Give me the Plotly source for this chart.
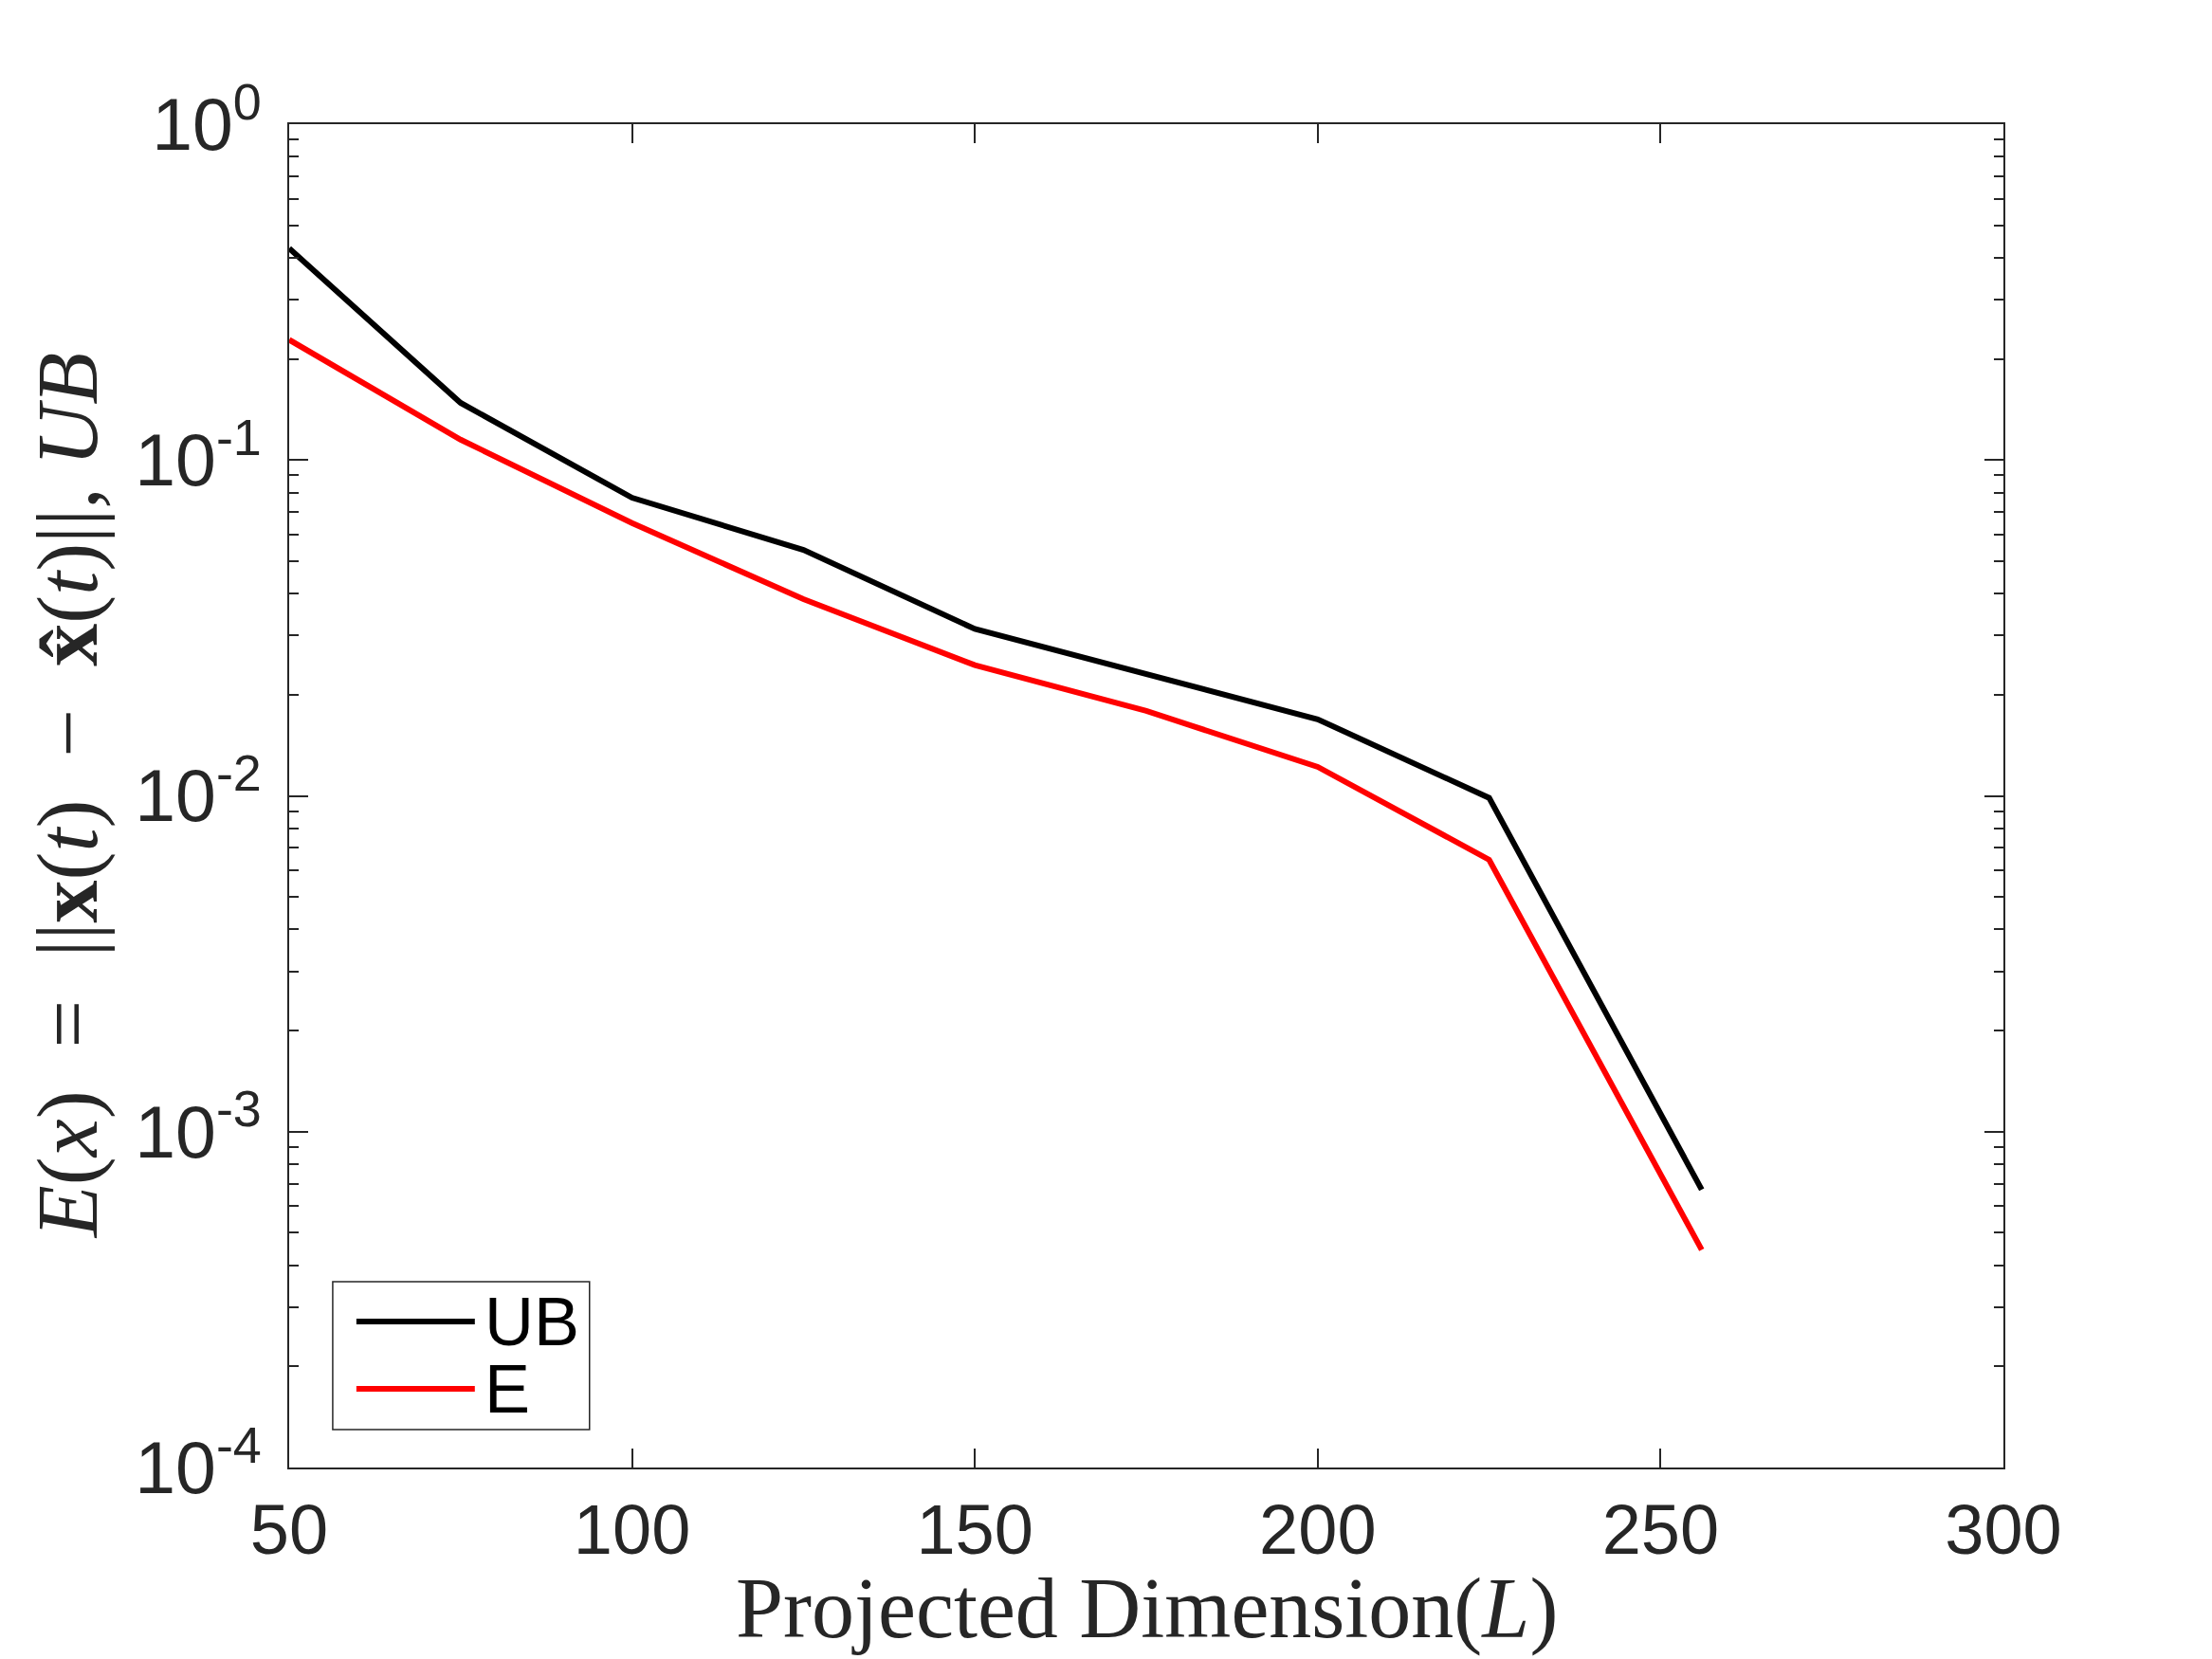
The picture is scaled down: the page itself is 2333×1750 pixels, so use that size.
import plotly.graph_objects as go

# ---- data ----
L_values = [50, 75, 100, 125, 150, 175, 200, 225, 256]
ub_values = [0.427, 0.148, 0.0772, 0.054, 0.0314, 0.0231, 0.0169, 0.00986, 0.000672]
e_values = [0.228, 0.115, 0.0649, 0.0385, 0.0245, 0.0179, 0.0122, 0.00645, 0.000445]
series_names = ["UB", "E"]
series_colors = ["#000000", "#FF0000"]

x_ticks = [50, 100, 150, 200, 250, 300]
y_tick_vals = [1e-4, 1e-3, 1e-2, 1e-1, 1e0]
y_tick_text = ["10<sup>-4</sup>", "10<sup>-3</sup>", "10<sup>-2</sup>", "10<sup>-1</sup>", "10<sup>0</sup>"]
y_minor_vals = [m * 10 ** e for e in range(-4, 0) for m in range(2, 10)]

x_title = "Projected Dimension(<i>L</i>)"
y_title = ("<i>E</i>(<i>x</i>)&nbsp; = &nbsp;||<b>x</b>(<i>t</i>)&nbsp; \u2212 &nbsp;"
           "<b>x\u0302</b>(<i>t</i>)||, <i>UB</i>")

AX = "#262626"
SANS = "Liberation Sans, Arial, sans-serif"
SERIF = "Liberation Serif, Times New Roman, serif"

fig = go.Figure()
for name, ys, col in zip(series_names, [ub_values, e_values], series_colors):
    fig.add_trace(go.Scatter(x=L_values, y=ys, mode="lines", name=name,
                             line=dict(color=col, width=6), showlegend=False))

axis_common = dict(showline=True, linecolor=AX, linewidth=1.5, mirror="ticks",
                   ticks="inside", ticklen=20, tickwidth=1.5, tickcolor=AX,
                   showgrid=False, zeroline=False)

fig.update_xaxes(range=[50, 300], tickmode="array", tickvals=x_ticks,
                 ticklabelstandoff=0, tickfont=dict(family=SANS, size=74, color=AX),
                 **axis_common)
fig.update_yaxes(type="log", range=[-4, 0], tickmode="array", tickvals=y_tick_vals,
                 ticktext=y_tick_text, ticklabelstandoff=12,
                 tickfont=dict(family=SANS, size=77, color=AX),
                 minor=dict(tickmode="array", tickvals=y_minor_vals, ticks="inside",
                            ticklen=10, tickwidth=1.5, tickcolor=AX, showgrid=False),
                 **axis_common)

# ---- axis titles ----
fig.add_annotation(xref="paper", yref="paper", x=0.5, y=-0.105, text=x_title,
                   showarrow=False, xanchor="center", yanchor="middle",
                   font=dict(family=SERIF, size=90, color=AX))
fig.add_annotation(xref="paper", yref="paper", x=-0.129, y=0.5, text=y_title,
                   showarrow=False, xanchor="center", yanchor="middle", textangle=-90,
                   font=dict(family=SERIF, size=90, color=AX))

# ---- legend box drawn in the MATLAB style ----
fig.add_shape(type="rect", xref="paper", yref="paper", x0=0.0254, x1=0.1752,
              y0=0.0282, y1=0.1383, line=dict(color=AX, width=1.5), fillcolor="white")
leg_rows = [0.1087, 0.0586]
for name, col, yy in zip(series_names, series_colors, leg_rows):
    fig.add_shape(type="line", xref="paper", yref="paper", x0=0.0392, x1=0.1083,
                  y0=yy, y1=yy, line=dict(color=col, width=6))
    fig.add_annotation(xref="paper", yref="paper", x=0.113, y=yy, text=name,
                       showarrow=False, xanchor="left", yanchor="middle",
                       font=dict(family=SANS, size=72, color="#000000"))

fig.update_layout(width=2333, height=1750, plot_bgcolor="white", paper_bgcolor="white",
                  margin=dict(l=297, r=228, t=123, b=210, autoexpand=False),
                  showlegend=False)

fig.write_html("out.html")
